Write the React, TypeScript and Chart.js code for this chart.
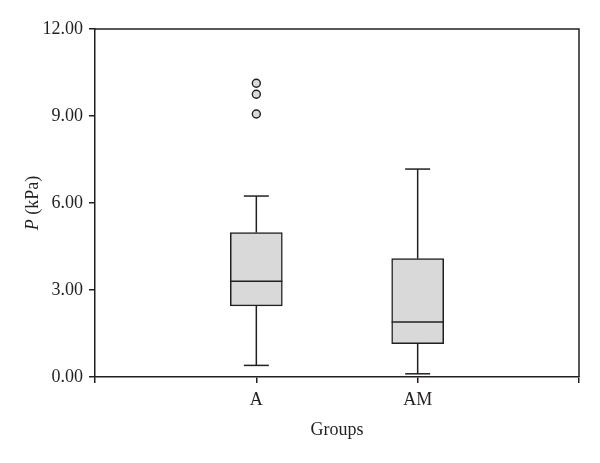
import React, { useEffect, useRef } from "react";
import { Chart, registerables } from "chart.js";

Chart.register(...registerables);

// ---- data ----
const axisLabels = ["", "A", "AM", " "];
const groups = ["A", "AM"];
const whiskerLow = [0.4, 0.11];
const q1 = [2.45, 1.15];
const median = [3.3, 1.9];
const q3 = [4.98, 4.08];
const whiskerHigh = [6.24, 7.17];
const outliersA = [9.07, 9.75, 10.13];
const outliersAM: number[] = [];
const yTicksMin = 0;
const yTicksMax = 12;
const yTicksStep = 3;

// ---- style ----
const FONT = "'Liberation Serif', 'DejaVu Serif', serif";
const FS = 18;
const INK = "#231f20";
const BOX_FILL = "#d9d9d9";
const BOX_W = 52;
const CAP_W = 25;

const boxPlugin = {
  id: "boxExtras",
  afterDatasetsDraw(chart: any) {
    const { ctx, scales, chartArea } = chart;
    const x = scales.x;
    const y = scales.y;
    ctx.save();
    ctx.strokeStyle = INK;
    ctx.lineWidth = 1.5;
    const line = (x1: number, y1: number, x2: number, y2: number) => {
      ctx.beginPath();
      ctx.moveTo(x1, y1);
      ctx.lineTo(x2, y2);
      ctx.stroke();
    };
    groups.forEach((g, i) => {
      const cx = x.getPixelForValue(axisLabels.indexOf(g));
      line(cx, y.getPixelForValue(q3[i]), cx, y.getPixelForValue(whiskerHigh[i]));
      line(cx, y.getPixelForValue(q1[i]), cx, y.getPixelForValue(whiskerLow[i]));
      const yh = y.getPixelForValue(whiskerHigh[i]);
      const yl = y.getPixelForValue(whiskerLow[i]);
      line(cx - CAP_W / 2, yh, cx + CAP_W / 2, yh);
      line(cx - CAP_W / 2, yl, cx + CAP_W / 2, yl);
      const ym = y.getPixelForValue(median[i]);
      line(cx - BOX_W / 2, ym, cx + BOX_W / 2, ym);
    });
    // frame top and right
    ctx.beginPath();
    ctx.moveTo(chartArea.left, chartArea.top);
    ctx.lineTo(chartArea.right, chartArea.top);
    ctx.lineTo(chartArea.right, chartArea.bottom);
    ctx.stroke();
    // y title with italic P
    const cy = (chartArea.top + chartArea.bottom) / 2;
    ctx.translate(33, cy);
    ctx.rotate(-Math.PI / 2);
    ctx.fillStyle = INK;
    ctx.textBaseline = "middle";
    ctx.textAlign = "left";
    const p = "P";
    const rest = " (kPa)";
    ctx.font = `italic ${FS}px ${FONT}`;
    const pw = ctx.measureText(p).width;
    ctx.font = `${FS}px ${FONT}`;
    const rw = ctx.measureText(rest).width;
    const start = -(pw + rw) / 2;
    ctx.font = `italic ${FS}px ${FONT}`;
    ctx.fillText(p, start, 0);
    ctx.font = `${FS}px ${FONT}`;
    ctx.fillText(rest, start + pw, 0);
    ctx.restore();
  },
};

export default function App() {
  const ref = useRef<HTMLCanvasElement>(null);
  useEffect(() => {
    if (!ref.current) return;
    const boxData: any[] = axisLabels.map(() => null);
    groups.forEach((g, i) => (boxData[axisLabels.indexOf(g)] = [q1[i], q3[i]]));
    const outlierPoints = [
      ...outliersA.map((v) => ({ x: groups[0], y: v })),
      ...outliersAM.map((v) => ({ x: groups[1], y: v })),
    ];
    const chart = new Chart(ref.current, {
      type: "bar",
      data: {
        labels: axisLabels,
        datasets: [
          {
            type: "bar",
            data: boxData,
            backgroundColor: BOX_FILL,
            borderColor: INK,
            borderWidth: 1.5,
            borderSkipped: false,
            barThickness: BOX_W,
          } as any,
          {
            type: "scatter",
            data: outlierPoints,
            pointRadius: 4,
            pointBackgroundColor: BOX_FILL,
            pointBorderColor: INK,
            pointBorderWidth: 1.4,
          } as any,
        ],
      },
      options: {
        animation: false,
        responsive: true,
        maintainAspectRatio: false,
        layout: { padding: { top: 29, right: 21, left: 0, bottom: 0 } },
        plugins: { legend: { display: false }, tooltip: { enabled: false } },
        scales: {
          x: {
            type: "category",
            offset: false,
            afterFit: (s: any) => {
              s.height = 86;
            },
            grid: {
              display: true,
              offset: false,
              drawOnChartArea: false,
              drawTicks: true,
              tickLength: 6,
              color: INK,
              lineWidth: 1.5,
            },
            border: { display: true, color: INK, width: 1.5 },
            ticks: {
              color: INK,
              font: { family: FONT, size: FS },
              padding: 6,
              maxRotation: 0,
              autoSkip: false,
            },
            title: {
              display: true,
              text: "Groups",
              color: INK,
              font: { family: FONT, size: FS },
              padding: { top: 0, bottom: 22 },
            },
          },
          y: {
            type: "linear",
            min: yTicksMin,
            max: yTicksMax,
            afterFit: (s: any) => {
              s.width = 95;
            },
            grid: {
              display: true,
              drawOnChartArea: false,
              drawTicks: true,
              tickLength: 6,
              color: INK,
              lineWidth: 1.5,
            },
            border: { display: true, color: INK, width: 1.5 },
            ticks: {
              stepSize: yTicksStep,
              color: INK,
              font: { family: FONT, size: FS },
              padding: 6,
              callback: (v: any) => Number(v).toFixed(2),
            },
          },
        },
      },
      plugins: [boxPlugin],
    });
    return () => chart.destroy();
  }, []);
  return (
    <div style={{ position: "absolute", left: 0, top: 0, width: 600, height: 463, background: "#fff" }}>
      <canvas ref={ref} />
    </div>
  );
}
